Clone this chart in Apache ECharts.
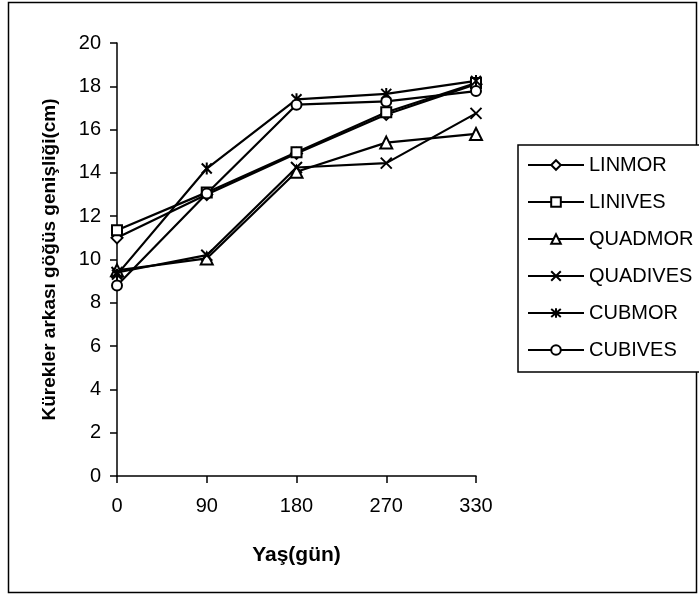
<!DOCTYPE html>
<html>
<head>
<meta charset="utf-8">
<script src="https://cdn.jsdelivr.net/npm/echarts@6/dist/echarts.min.js"></script>
<style>
  html, body { margin: 0; padding: 0; background: #fff; }
  #chart { width: 699px; height: 596px; }
</style>
</head>
<body>
<div id="chart"></div>
<script>
const categories = ['0', '90', '180', '270', '330'];
const seriesNames = ['LINMOR', 'LINIVES', 'QUADMOR', 'QUADIVES', 'CUBMOR', 'CUBIVES'];
const linmor   = [11.0, 13.0, 14.9, 16.7, 18.1];
const linives  = [11.35, 13.1, 14.95, 16.8, 18.15];
const quadmor  = [9.5, 10.05, 14.05, 15.4, 15.8];
const quadives = [9.4, 10.2, 14.25, 14.45, 16.75];
const cubmor   = [9.3, 14.2, 17.4, 17.65, 18.25];
const cubives  = [8.8, 13.05, 17.15, 17.3, 17.78];
const yTicks = { min: 0, max: 20, interval: 2 };

const symbols = [
  'diamond',
  'rect',
  'triangle',
  'path://M0,0L10,10M10,0L0,10',
  'path://M0,1L10,11M10,1L0,11M5,0L5,12',
  'circle'
];
const sizes = [11, 10, 12, 11, 12, 10];
const values = [linmor, linives, quadmor, quadives, cubmor, cubives];

const FONT = '"Liberation Sans", Arial, sans-serif';

const chart = echarts.init(document.getElementById('chart'), null, { renderer: 'canvas' });
chart.setOption({
  backgroundColor: '#fff',
  animation: false,
  graphic: [{
    type: 'rect',
    shape: { x: 8.5, y: 2.5, width: 688, height: 590 },
    style: { fill: 'none', stroke: '#000', lineWidth: 1.5 },
    silent: true
  }],
  grid: { left: 117, top: 43, width: 359, height: 433 },
  legend: {
    orient: 'vertical',
    left: 518,
    top: 145,
    padding: [10, 20, 12, 9],
    itemGap: 17,
    itemWidth: 56,
    itemHeight: 12,
    borderColor: '#000',
    borderWidth: 1.5,
    backgroundColor: '#fff',
    textStyle: { fontFamily: FONT, fontSize: 20, color: '#000', lineHeight: 20 },
    data: seriesNames
  },
  xAxis: {
    type: 'category',
    data: categories,
    boundaryGap: false,
    axisLine: { lineStyle: { color: '#000', width: 1.5 } },
    axisTick: { show: true, length: 7, lineStyle: { color: '#000', width: 1.5 } },
    axisLabel: { fontFamily: FONT, fontSize: 20, color: '#000', margin: 20 },
    name: 'Yaş(gün)',
    nameLocation: 'middle',
    nameGap: 69,
    nameTextStyle: { fontFamily: FONT, fontSize: 21, fontWeight: 'bold', color: '#000' }
  },
  yAxis: {
    type: 'value',
    min: yTicks.min,
    max: yTicks.max,
    interval: yTicks.interval,
    splitLine: { show: false },
    axisLine: { show: true, lineStyle: { color: '#000', width: 1.5 } },
    axisTick: { show: true, length: 7, lineStyle: { color: '#000', width: 1.5 } },
    axisLabel: { fontFamily: FONT, fontSize: 20, color: '#000', margin: 16 },
    name: 'Kürekler arkası göğüs genişliği(cm)',
    nameLocation: 'middle',
    nameGap: 58,
    nameTextStyle: { fontFamily: FONT, fontSize: 19, fontWeight: 'bold', color: '#000' }
  },
  series: seriesNames.map((name, i) => ({
    name: name,
    type: 'line',
    data: values[i],
    symbol: symbols[i],
    symbolSize: sizes[i],
    symbolKeepAspect: true,
    showAllSymbol: true,
    lineStyle: { color: '#000', width: 2.2 },
    itemStyle: { color: '#fff', borderColor: '#000', borderWidth: 2 },
    emphasis: { disabled: true }
  }))
});
</script>
</body>
</html>
